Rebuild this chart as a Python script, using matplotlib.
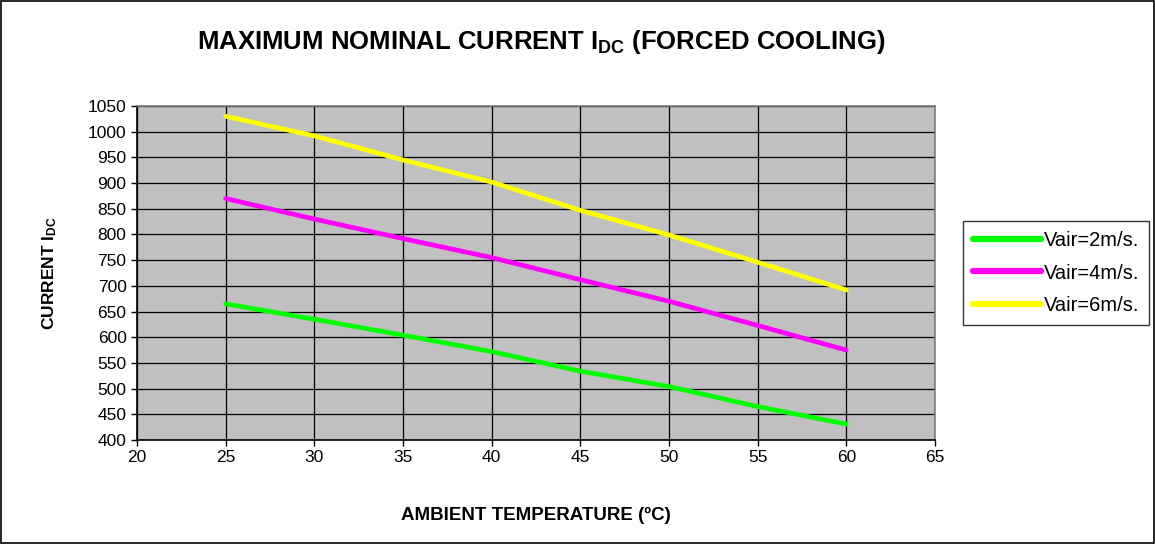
import numpy as np
import matplotlib.pyplot as plt
from matplotlib.patches import Rectangle

plt.rcParams['font.family'] = ['Liberation Sans', 'DejaVu Sans']
plt.rcParams['mathtext.fontset'] = 'custom'
plt.rcParams['mathtext.rm'] = 'Liberation Sans:bold'
plt.rcParams['mathtext.bf'] = 'Liberation Sans:bold'
plt.rcParams['mathtext.it'] = 'Liberation Sans:bold'

# data
temp = [25, 30, 35, 40, 45, 50, 55, 60]
i_2ms = [665, 635, 604, 572, 534, 504, 465, 431]
i_4ms = [870, 830, 792, 755, 712, 670, 623, 575]
i_6ms = [1030, 992, 945, 902, 847, 799, 746, 692]
labels = ['Vair=2m/s.', 'Vair=4m/s.', 'Vair=6m/s.']
colors = ['#00FF00', '#FF00FF', '#FFFF00']

fig = plt.figure(figsize=(11.55, 5.44), dpi=100)
fig.patches.append(Rectangle((0.001, 0.002), 0.998, 0.996, transform=fig.transFigure,
                             fill=False, edgecolor='black', linewidth=1.2))
ax = fig.add_axes([0.1186, 0.1912, 0.6909, 0.6139])
ax.set_facecolor('#C0C0C0')

for y, lab, c in zip([i_2ms, i_4ms, i_6ms], labels, colors):
    ax.plot(temp, y, color=c, linewidth=3.4, label=lab, solid_capstyle='round')

ax.set_xlim(20, 65)
ax.set_ylim(400, 1050)
ax.set_xticks(np.arange(20, 66, 5))
ax.set_yticks(np.arange(400, 1051, 50))
ax.grid(True, color='black', linewidth=0.9)
ax.set_axisbelow(True)
ax.tick_params(direction='out', length=4, width=1, labelsize=12.5, colors='black')
for s in ['top', 'right']:
    ax.spines[s].set_color('#808080')
    ax.spines[s].set_linewidth(1.2)
for s in ['left', 'bottom']:
    ax.spines[s].set_linewidth(1.2)

ax.set_xlabel('AMBIENT TEMPERATURE (ºC)', fontsize=13.5, fontweight='bold', labelpad=30)
ax.set_ylabel(r'CURRENT I$_{DC}$', fontsize=12.5, fontweight='bold', labelpad=21)
fig.text(0.469, 0.922, r'MAXIMUM NOMINAL CURRENT I$_{DC}$ (FORCED COOLING)',
         fontsize=18.5, fontweight='bold', ha='center', va='center')

leg = ax.legend(loc='center left', bbox_to_anchor=(1.035, 0.5), fontsize=14.5,
                frameon=True, fancybox=False, edgecolor='black', handlelength=3.4,
                handletextpad=0.1, labelspacing=0.65, borderpad=0.5, borderaxespad=0)
leg.get_frame().set_linewidth(1.0)
for h in leg.get_lines():
    h.set_linewidth(4.5)

fig.savefig('out.png', dpi=100)
